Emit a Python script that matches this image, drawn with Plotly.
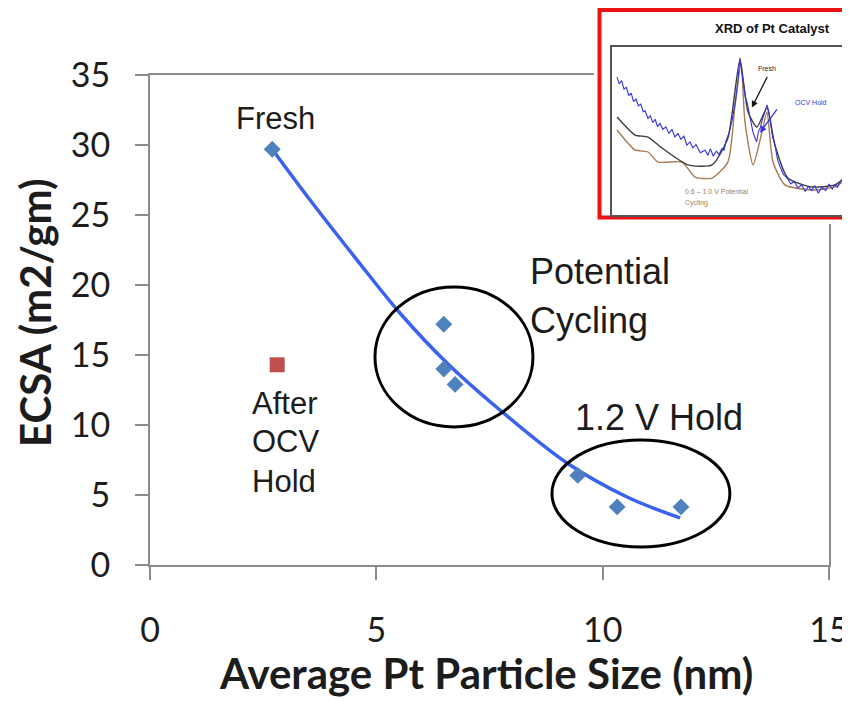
import plotly.graph_objects as go

# ---------------- data ----------------
# main chart: ECSA vs average Pt particle size
size_nm = [2.70, 6.49, 6.49, 6.74, 9.45, 10.32, 11.73]
ecsa = [29.7, 17.2, 14.0, 12.9, 6.4, 4.15, 4.15]

ocv_size_nm = [2.81]
ocv_ecsa = [14.3]

# trend line
fit_x = [2.70, 3.60, 4.57, 5.52, 6.56, 7.73, 9.21, 10.54, 11.71]
fit_y = [29.7, 25.8, 21.8, 18.0, 14.43, 11.07, 7.29, 4.86, 3.36]

x_ticks = [0, 5, 10, 15]
y_ticks = [0, 5, 10, 15, 20, 25, 30, 35]

# inset: XRD patterns (arbitrary units)
xrd_fresh_x = [2.1, 9.6, 15.0, 20.8, 31.7, 41.7, 48.3, 53.3, 56.7, 60.4, 64.6, 67.9, 73.3, 83.3, 92.9, 98.3]
xrd_fresh_y = [58.3, 47.6, 46.4, 39.9, 29.8, 29.8, 45.8, 92.3, 61.3, 52.4, 63.7, 41.7, 22.0, 16.7, 17.9, 23.8]

xrd_cyc_x = [2.1, 9.6, 15.0, 19.2, 29.2, 34.6, 41.7, 48.3, 51.3, 53.8, 55.4, 58.8, 62.5, 64.6, 67.1, 72.1, 83.3, 92.9, 98.3]
xrd_cyc_y = [50.6, 38.7, 37.5, 31.5, 31.5, 22.6, 22.0, 31.5, 65.5, 90.5, 55.4, 29.8, 49.4, 61.3, 31.5, 17.9, 14.9, 16.7, 22.0]

xrd_ocv_x = [2.1, 3.0, 4.0, 5.0, 6.0, 7.0, 8.0, 9.0, 10.0, 11.0, 12.0, 13.0, 13.8, 15.0, 16.0, 17.0,
             18.0, 19.0, 20.0, 21.2, 22.5, 23.7, 25.0, 26.2, 27.5, 28.7, 30.0, 31.2, 32.5, 33.7, 35.0,
             36.8, 38.8, 40.0, 41.0, 42.2, 43.5, 44.6, 45.8, 46.7, 47.5, 48.8, 50.0, 51.5, 52.5, 53.3,
             54.0, 54.8, 55.6, 56.3, 57.2, 58.0, 58.8, 59.6, 60.3, 61.0, 61.8, 62.5, 63.5, 64.6,
             65.3, 66.0, 67.0, 67.9, 69.0, 70.0, 71.5, 73.3, 74.5, 76.0, 77.5, 79.0, 80.5, 81.8,
             83.3, 84.5, 86.0, 87.5, 89.0, 90.5, 91.8, 92.9, 94.0, 95.5, 97.0, 98.3]
xrd_ocv_y = [82.1, 78.0, 80.0, 75.0, 76.0, 71.0, 72.5, 67.5, 69.0, 65.0, 66.0, 61.5, 62.0, 57.5, 59.0, 55.0,
             57.0, 52.5, 54.5, 51.0, 52.5, 48.5, 51.0, 46.5, 48.5, 45.0, 47.0, 41.5, 43.5, 40.0, 42.0,
             37.0, 38.5, 35.5, 39.5, 35.0, 38.0, 36.0, 39.5, 38.5, 44.0, 49.0, 56.0, 68.0, 80.0, 93.5,
             86.0, 78.0, 70.0, 67.0, 60.0, 55.0, 49.0, 46.0, 43.5, 49.5, 52.0, 56.0, 60.0, 65.5,
             62.0, 55.0, 46.0, 41.7, 33.0, 29.0, 24.0, 21.5, 18.5, 20.0, 16.0, 18.0, 14.0, 17.0,
             14.5, 17.5, 13.0, 16.5, 14.5, 18.5, 15.5, 18.0, 16.5, 20.5, 20.0, 25.6]

# ---------------- figure ----------------
TXT = "#1c1c1c"
fig = go.Figure()

fig.add_trace(go.Scatter(x=fit_x, y=fit_y, mode="lines",
                         line=dict(color="#3a62f0", width=3.5, shape="spline"),
                         xaxis="x", yaxis="y", showlegend=False, hoverinfo="skip"))
fig.add_trace(go.Scatter(x=size_nm, y=ecsa, mode="markers",
                         marker=dict(symbol="diamond", size=13, color="#4f81bd"),
                         xaxis="x", yaxis="y", showlegend=False))
fig.add_trace(go.Scatter(x=ocv_size_nm, y=ocv_ecsa, mode="markers",
                         marker=dict(symbol="square", size=15, color="#c0504d"),
                         xaxis="x", yaxis="y", showlegend=False))

# inset traces
fig.add_trace(go.Scatter(x=xrd_cyc_x, y=xrd_cyc_y, mode="lines",
                         line=dict(color="#a67c52", width=1.4, shape="spline", smoothing=0.6),
                         xaxis="x3", yaxis="y3", showlegend=False, hoverinfo="skip"))
fig.add_trace(go.Scatter(x=xrd_fresh_x, y=xrd_fresh_y, mode="lines",
                         line=dict(color="#3c3c3c", width=1.4, shape="spline", smoothing=0.6),
                         xaxis="x3", yaxis="y3", showlegend=False, hoverinfo="skip"))
fig.add_trace(go.Scatter(x=xrd_ocv_x, y=xrd_ocv_y, mode="lines",
                         line=dict(color="#3535d8", width=1.1),
                         xaxis="x3", yaxis="y3", showlegend=False, hoverinfo="skip"))

# The page adds an 8 px body margin; layout below is expressed in screen pixels.
OFF = 8
W, H = 850 - OFF, 701 - OFF
PL, PR, PT, PB = 150, 850, OFF, 565   # plot area in screen pixels
PW, PH = PR - PL, PB - PT


def xdom(s0, s1):
    return [(s0 - PL) / PW, (s1 - PL) / PW]


def ydom(top, bottom):
    return [(PB - bottom) / PH, (PB - top) / PH]


def px(s):
    return (s - PL) / PW


def py(s):
    return (PB - s) / PH


axis_font = dict(family="Lato, Carlito, sans-serif", size=34, color=TXT)
title_font = dict(family="Lato, Carlito, sans-serif", size=42, color=TXT)

fig.update_layout(
    width=W, height=H,
    margin=dict(l=PL - OFF, r=0, t=0, b=H - (PB - OFF), autoexpand=False),
    paper_bgcolor="white", plot_bgcolor="white",
    xaxis=dict(domain=xdom(150, 829), range=[0, 15], tickvals=x_ticks,
               showgrid=False, zeroline=False, showline=True, mirror=True,
               linecolor="#8c8c8c", linewidth=2, ticks="outside", ticklen=13,
               tickcolor="#8c8c8c", tickwidth=2, tickfont=axis_font,
               ticklabelstandoff=21, automargin=False, anchor="y"),
    yaxis=dict(domain=ydom(75, 565), range=[0, 35], tickvals=y_ticks,
               showgrid=False, zeroline=False, showline=True, mirror=True,
               linecolor="#8c8c8c", linewidth=2, ticks="outside", ticklen=13,
               tickcolor="#8c8c8c", tickwidth=2, tickfont=axis_font,
               ticklabelstandoff=18, automargin=False, anchor="x"),
    # frame of the inset (screen-pixel units)
    xaxis2=dict(domain=xdom(594, 850), range=[594, 850], visible=False, anchor="y2",
                fixedrange=True, automargin=False),
    yaxis2=dict(domain=ydom(8, 224), range=[224, 8], visible=False, anchor="x2",
                fixedrange=True, automargin=False),
    # inner XRD plot
    xaxis3=dict(domain=xdom(612, 850), range=[0, 99.2], showgrid=False, zeroline=False,
                showline=True, mirror=True, linecolor="#555555", linewidth=1.5,
                showticklabels=False, ticks="", anchor="y3", automargin=False),
    yaxis3=dict(domain=ydom(47, 215), range=[0, 100], showgrid=False, zeroline=False,
                showline=True, mirror=False, linecolor="#555555", linewidth=1.5,
                showticklabels=False, ticks="", anchor="x3", automargin=False),
)

# axis titles
fig.add_annotation(x=px(486), y=py(700), xref="paper", yref="paper",
                   text="<b>Average Pt Particle Size (nm)</b>",
                   showarrow=False, xanchor="center", yanchor="bottom", font=title_font)
fig.add_annotation(x=px(35), y=py(313), xref="paper", yref="paper",
                   text="<b>ECSA (m2/gm)</b>", textangle=-90,
                   showarrow=False, xanchor="center", yanchor="middle", font=title_font)

# white panel with red border behind the inset
fig.add_shape(type="rect", xref="x2", yref="y2", x0=599.5, x1=880, y0=10, y1=217.5,
              fillcolor="white", line=dict(color="#ee1111", width=4), layer="below")

ann_font_big = dict(family="Liberation Sans, Arial, sans-serif", size=36, color=TXT)
ann_font_mid = dict(family="Liberation Sans, Arial, sans-serif", size=31, color=TXT)

fig.add_annotation(x=2.78, y=31.9, xref="x", yref="y", text="Fresh", showarrow=False,
                   font=ann_font_mid, xanchor="center", yanchor="middle")
fig.add_annotation(x=8.35, y=20.93, xref="x", yref="y", text="Potential", showarrow=False,
                   font=ann_font_big, xanchor="left", yanchor="middle")
fig.add_annotation(x=8.35, y=17.5, xref="x", yref="y", text="Cycling", showarrow=False,
                   font=ann_font_big, xanchor="left", yanchor="middle")
fig.add_annotation(x=9.35, y=10.57, xref="x", yref="y", text="1.2 V Hold", showarrow=False,
                   font=ann_font_big, xanchor="left", yanchor="middle")
for txt, yy in [("After", 11.57), ("OCV", 8.79), ("Hold", 6.0)]:
    fig.add_annotation(x=2.22, y=yy, xref="x", yref="y", text=txt, showarrow=False,
                       font=ann_font_mid, xanchor="left", yanchor="middle")

# ellipses around groups
fig.add_shape(type="circle", xref="x", yref="y", x0=4.97, x1=8.46, y0=9.86, y1=19.86,
              line=dict(color="black", width=3))
fig.add_shape(type="circle", xref="x", yref="y", x0=8.88, x1=12.81, y0=1.29, y1=8.93,
              line=dict(color="black", width=3))

# inset texts
small = "Liberation Sans, Arial, sans-serif"
fig.add_annotation(x=713, y=28, xref="x2", yref="y2", text="<b>XRD of Pt Catalyst</b>",
                   showarrow=False, xanchor="left", yanchor="middle",
                   font=dict(family=small, size=13, color="#111111"))
fig.add_annotation(x=64.6, y=87, xref="x3", yref="y3", text="Fresh", showarrow=False,
                   xanchor="center", yanchor="middle", font=dict(family=small, size=7, color="#222222"))
fig.add_annotation(x=58.3, y=64, ax=65.0, ay=83, xref="x3", yref="y3", axref="x3", ayref="y3",
                   text="", showarrow=True, arrowhead=2, arrowsize=1, arrowwidth=1.3,
                   arrowcolor="#111111")
fig.add_annotation(x=75.4, y=67, xref="x3", yref="y3", text="OCV Hold", showarrow=False,
                   xanchor="left", yanchor="middle", font=dict(family=small, size=7, color="#3535d8"))
fig.add_annotation(x=61.7, y=49, ax=69.2, ay=63.7, xref="x3", yref="y3", axref="x3", ayref="y3",
                   text="", showarrow=True, arrowhead=2, arrowsize=1, arrowwidth=1.3,
                   arrowcolor="#3535d8")
fig.add_annotation(x=29.5, y=13.7, xref="x3", yref="y3", text="0.6 \u2013 1.0 V Potential",
                   showarrow=False, xanchor="left", yanchor="middle",
                   font=dict(family=small, size=7, color="#a67c52"))
fig.add_annotation(x=29.5, y=7.2, xref="x3", yref="y3", text="Cycling",
                   showarrow=False, xanchor="left", yanchor="middle",
                   font=dict(family=small, size=7, color="#a67c52"))

fig.write_html("out.html")
